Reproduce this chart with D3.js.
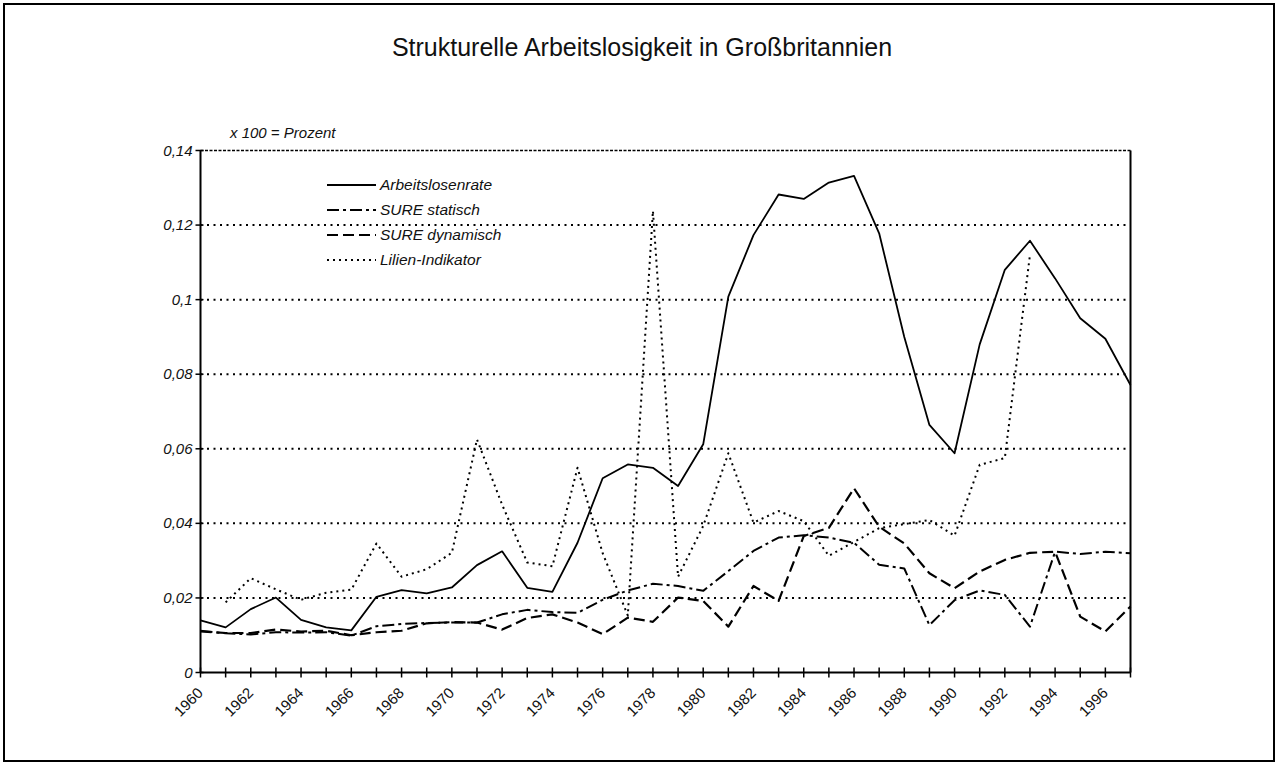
<!DOCTYPE html>
<html><head><meta charset="utf-8">
<script src="https://cdn.jsdelivr.net/npm/d3@7"></script>
<style>body{margin:0;background:#fff}svg{display:block}</style></head>
<body><svg id="c" width="1278" height="767"></svg>
<script>
const years = [1960,1961,1962,1963,1964,1965,1966,1967,1968,1969,
  1970,1971,1972,1973,1974,1975,1976,1977,1978,1979,
  1980,1981,1982,1983,1984,1985,1986,1987,1988,1989,
  1990,1991,1992,1993,1994,1995,1996,1997];
const arbeitslosenrate = [0.0140,0.0121,0.0170,0.0201,0.0141,0.0121,0.0113,0.0203,0.0221,0.0212,
  0.0228,0.0288,0.0325,0.0227,0.0216,0.0348,0.0521,0.0558,0.0549,0.0500,
  0.0612,0.1008,0.1173,0.1282,0.1270,0.1314,0.1332,0.1178,0.0900,0.0664,
  0.0588,0.0880,0.1080,0.1158,0.1057,0.0950,0.0895,0.0771];
const sureStatisch = [0.0112,0.0105,0.0102,0.0108,0.0107,0.0108,0.0099,0.0124,0.0130,0.0133,
  0.0134,0.0134,0.0156,0.0168,0.0162,0.0160,0.0195,0.0220,0.0238,0.0232,
  0.0219,0.0272,0.0326,0.0362,0.0368,0.0362,0.0348,0.0289,0.0279,0.0127,
  0.0194,0.0220,0.0208,0.0123,0.0324,0.0318,0.0324,0.0320];
const sureDynamisch = [0.0110,0.0106,0.0106,0.0115,0.0110,0.0112,0.0100,0.0108,0.0112,0.0132,
  0.0135,0.0134,0.0115,0.0146,0.0156,0.0134,0.0103,0.0147,0.0136,0.0201,
  0.0192,0.0123,0.0232,0.0192,0.0366,0.0388,0.0494,0.0391,0.0346,0.0266,
  0.0226,0.0271,0.0302,0.0321,0.0324,0.0150,0.0110,0.0177];
const lilienIndikator = [null,0.0188,0.0253,0.0223,0.0195,0.0214,0.0222,0.0346,0.0257,0.0277,
  0.0321,0.0625,0.0450,0.0295,0.0285,0.0549,0.0320,0.0153,0.1238,0.0257,
  0.0393,0.0588,0.0402,0.0433,0.0406,0.0313,0.0350,0.0387,0.0398,0.0409,
  0.0367,0.0557,0.0575,0.1120,null,null,null,null];
const yTicks = [0,0.02,0.04,0.06,0.08,0.1,0.12,0.14];
const yTickLabels = ["0","0,02","0,04","0,06","0,08","0,1","0,12","0,14"];
const seriesNames = ["Arbeitslosenrate","SURE statisch","SURE dynamisch","Lilien-Indikator"];
const title = "Strukturelle Arbeitslosigkeit in Großbritannien";
const unitLabel = "x 100 = Prozent";

const svg = d3.select("#c");
const L = 200.5, R = 1130.5, T = 150.5, B = 672.5;
const x = d3.scalePoint().domain(years).range([L, R]);
const y = d3.scaleLinear().domain([0, 0.14]).range([B, T]);
const font = "'Liberation Sans', Arial, Helvetica, sans-serif";

// outer frame
svg.append("rect").attr("x",4).attr("y",4).attr("width",1270).attr("height",757)
  .attr("fill","#fff").attr("stroke","#000").attr("stroke-width",2);

svg.append("text").attr("x",642).attr("y",56).attr("text-anchor","middle")
  .attr("font-family",font).attr("font-size",25).attr("fill","#111").text(title);

svg.append("text").attr("x",230).attr("y",138).attr("font-family",font)
  .attr("font-style","italic").attr("font-size",15).attr("fill","#111").text(unitLabel);

// gridlines
svg.append("g").selectAll("line").data(yTicks.filter(v => v > 0 && v < 0.14)).join("line")
  .attr("x1",L).attr("x2",R).attr("y1",d=>y(d)).attr("y2",d=>y(d))
  .attr("stroke","#000").attr("stroke-width",2).attr("stroke-dasharray","2,4.5");
// top border
svg.append("line").attr("x1",L).attr("x2",R).attr("y1",y(0.14)).attr("y2",y(0.14))
  .attr("stroke","#000").attr("stroke-width",1.6).attr("stroke-dasharray","3,1.5");
// right border
svg.append("line").attr("x1",R).attr("x2",R).attr("y1",T).attr("y2",B)
  .attr("stroke","#000").attr("stroke-width",2);
// y axis
svg.append("line").attr("x1",L).attr("x2",L).attr("y1",T).attr("y2",B)
  .attr("stroke","#000").attr("stroke-width",2);
svg.append("g").selectAll("line").data(yTicks).join("line")
  .attr("x1",L-5).attr("x2",L+3).attr("y1",d=>y(d)).attr("y2",d=>y(d))
  .attr("stroke","#000").attr("stroke-width",1.5);
svg.append("g").selectAll("text").data(yTicks).join("text")
  .attr("x",L-8).attr("y",d=>y(d)+5).attr("text-anchor","end")
  .attr("font-family",font).attr("font-style","italic").attr("font-size",15).attr("fill","#111")
  .text((d,i)=>yTickLabels[i]);
// x axis
svg.append("line").attr("x1",L).attr("x2",R).attr("y1",B).attr("y2",B)
  .attr("stroke","#000").attr("stroke-width",2);
svg.append("g").selectAll("line").data(years).join("line")
  .attr("x1",d=>x(d)).attr("x2",d=>x(d)).attr("y1",B-5).attr("y2",B+5)
  .attr("stroke","#000").attr("stroke-width",1.5);
svg.append("g").selectAll("text").data(years.filter((d,i)=>i%2===0)).join("text")
  .attr("transform",d=>`translate(${x(d)-4},${B+14}) rotate(-45)`)
  .attr("text-anchor","end").attr("dy","0.7em")
  .attr("font-family",font).attr("font-size",15).attr("fill","#111").text(d=>d);

const styles = [
  {data: arbeitslosenrate, dash: null, w: 1.8},
  {data: sureStatisch, dash: "12,4,3,4", w: 2},
  {data: sureDynamisch, dash: "11,5", w: 2.2},
  {data: lilienIndikator, dash: "2,4", w: 2}
];
const line = d3.line().defined(d => d[1] != null).x(d => x(d[0])).y(d => y(d[1]));
styles.forEach(s => {
  svg.append("path").datum(years.map((yr,i)=>[yr, s.data[i]]))
    .attr("d", line).attr("fill","none").attr("stroke","#000")
    .attr("stroke-width", s.w).attr("stroke-linejoin","round")
    .attr("stroke-dasharray", s.dash);
});

// legend
const lg = svg.append("g");
seriesNames.forEach((n,i) => {
  const yy = 185 + i*25;
  lg.append("line").attr("x1",327).attr("x2",376).attr("y1",yy).attr("y2",yy)
    .attr("stroke","#000").attr("stroke-width",styles[i].w).attr("stroke-dasharray",styles[i].dash);
  lg.append("text").attr("x",380).attr("y",yy+5).attr("font-family",font)
    .attr("font-style","italic").attr("font-size",15.5).attr("fill","#111").text(n);
});
</script></body></html>
